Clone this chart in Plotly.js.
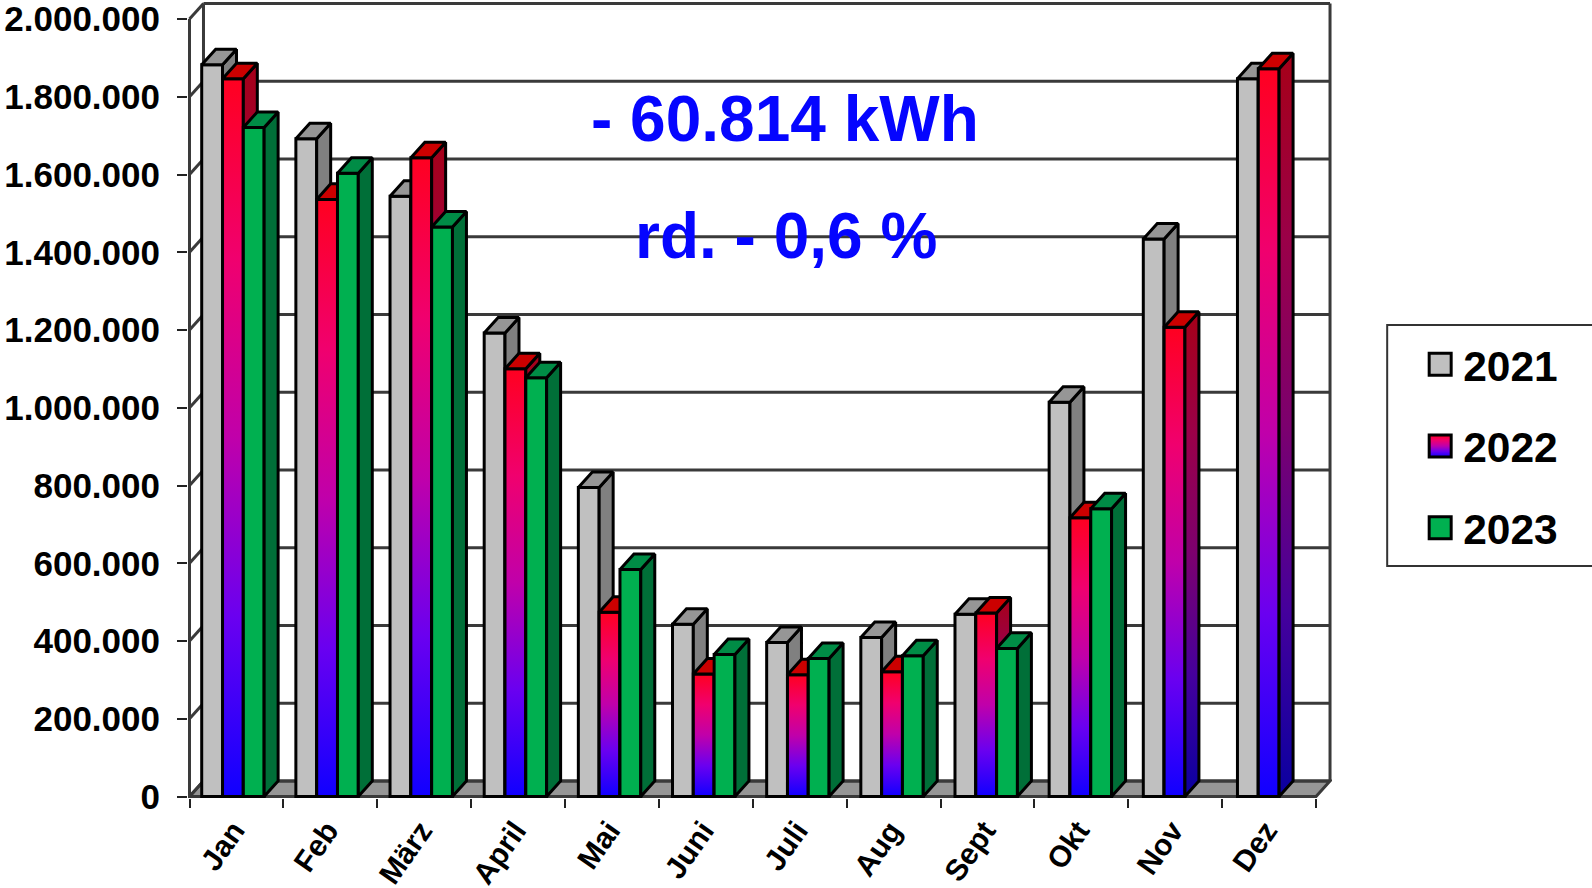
<!DOCTYPE html>
<html><head><meta charset="utf-8">
<script src="https://cdn.plot.ly/plotly-3.0.1.min.js"></script>
<style>html,body{margin:0;padding:0;background:#fff;overflow:hidden}#c{width:1592px;height:888px}</style>
</head><body><div id="c"></div>
<script>
const months = ["Jan","Feb","März","April","Mai","Juni","Juli","Aug","Sept","Okt","Nov","Dez"];
const v2021 = [1882000,1692000,1544000,1192000,795000,443000,396000,409000,469000,1014000,1434000,1846000];
const v2022 = [1846000,1536000,1643000,1100000,474000,315000,313000,321000,472000,717000,1207000,1872000];
const v2023 = [1721000,1603000,1465000,1077000,584000,365000,355000,362000,381000,740000,null,null];
const yTicks = [0,200000,400000,600000,800000,1000000,1200000,1400000,1600000,1800000,2000000];
const yLabels = ["0","200.000","400.000","600.000","800.000","1.000.000","1.200.000","1.400.000","1.600.000","1.800.000","2.000.000"];
const note1 = "- 60.814 kWh", note2 = "rd. - 0,6 %";

// projection of the pseudo-3D box, in axis units
const DX = 0.149, DY = 40000, BW = 0.2217, GAP0 = 0.13, PITCH = 1.003, N = 12, YMAX = 2000000;
const XR = [-0.016, 12.17], YR = [-3858, 2046300];
const M = {l:187.5, r:260.2, t:1, b:90};
const W = 1592, H = 888;
const px = x => (x - M.l) / (W - M.l - M.r), py = y => (H - M.b - y) / (H - M.t - M.b);

// [offset from top of the bar, colour]
const frontStops = [[0,"#ff0020"],[0.25,"#f0006e"],[0.5,"#c000aa"],[0.75,"#6a00f0"],[1,"#1000ff"]];
const sideStops  = [[0,"#a60018"],[0.25,"#9a0048"],[0.5,"#7c006e"],[0.75,"#45009c"],[1,"#0a00a0"]];

const series = [
 {name:"2021", vals:v2021, front:"#c0c0c0", top:"#969696", side:"#808080", ax:""},
 {name:"2022", vals:v2022, front:"#ff0033", top:"#cc0000", sideScale:sideStops.map(([o,c])=>[1-o,c]).reverse(), ax:"2"},
 {name:"2023", vals:v2023, front:"#00b050", top:"#008c46", side:"#006f38", ax:"3"}
];
const LINE = {color:"#000", width:3};
const traces = [];
series.forEach((s, k) => {
  const xa = "x"+s.ax, ya = "y"+s.ax;
  const centers = months.map((m,i) => i*PITCH + GAP0 + BW*(k+0.5));
  traces.push({type:"bar", name:s.name, x:centers, y:s.vals, width:BW, xaxis:xa, yaxis:ya,
    marker:{color:s.front, line:{color:"#000", width:3}}, hoverinfo:"x+y", legendgroup:s.name, showlegend:true});
  s.vals.forEach((v,i) => {
    if (v === null) return;
    const l = centers[i]-BW/2, r = centers[i]+BW/2;
    const side = {type:"scatter", mode:"lines", xaxis:xa, yaxis:ya, showlegend:false, hoverinfo:"skip", line:LINE, fill:"toself",
      x:[r,r+DX,r+DX,r,r], y:[0,DY,v+DY,v,0]};
    if (s.sideScale) side.fillgradient = {type:"vertical", colorscale:s.sideScale};
    else side.fillcolor = s.side;
    traces.push(side);
    traces.push({type:"scatter", mode:"lines", xaxis:xa, yaxis:ya, showlegend:false, hoverinfo:"skip", line:LINE, fill:"toself", fillcolor:s.top,
      x:[l,r,r+DX,l+DX,l], y:[v,v,v+DY,v+DY,v]});
  });
});

const wall = {color:"#3a3a3a", width:3};
const shapes = [];
const seg = (x0,y0,x1,y1) => shapes.push({type:"line", layer:"below", xref:"x", yref:"y", x0,y0,x1,y1, line:wall});
shapes.push({type:"path", layer:"below", xref:"x", yref:"y", fillcolor:"#969696", line:wall,
  path:`M0,0 L${N},0 L${N+DX},${DY} L${DX},${DY} Z`});
yTicks.forEach(v => {
  seg(DX, v+DY, N+DX, v+DY);
  seg(0, v, DX, v+DY);
});
seg(0,0,0,YMAX); seg(DX,DY,DX,YMAX+DY); seg(N+DX,DY,N+DX,YMAX+DY); seg(0,0,N,0);
shapes.push({type:"rect", layer:"above", xref:"paper", yref:"paper", x0:px(1387), x1:px(1640), y0:py(566), y1:py(325),
  line:{color:"#333", width:2}, fillcolor:"rgba(0,0,0,0)"});

const bold = "Liberation Sans, Arial, sans-serif";
const hidden = {visible:false, showgrid:false, zeroline:false};
const layout = {
  width:W, height:H, margin:M, paper_bgcolor:"#fff", plot_bgcolor:"#fff", barmode:"overlay",
  font:{family:bold, color:"#000"}, showlegend:true, shapes,
  xaxis:{range:XR, tickmode:"array", tickvals:months.concat("").map((m,i)=>i), ticktext:months.concat("").map(()=>""),
    ticks:"outside", ticklen:9, tickwidth:2, tickcolor:"#222", showgrid:false, zeroline:false, showline:false, fixedrange:true},
  yaxis:{range:YR, tickmode:"array", tickvals:yTicks, ticktext:yLabels, ticks:"outside", ticklen:10, tickwidth:2, tickcolor:"#222",
    ticklabelstandoff:10, ticklabeloverflow:"allow", tickfont:{size:35, family:bold, weight:700}, showgrid:false, zeroline:false, showline:false, fixedrange:true},
  xaxis2:{overlaying:"x", anchor:"y2", range:XR, side:"bottom", tickmode:"array", tickvals:months.map((m,i)=>i+0.47), ticktext:months,
    tickangle:-55, ticks:"", ticklabelstandoff:8, ticklabeloverflow:"allow", tickfont:{size:30, family:bold, weight:700}, showgrid:false, zeroline:false, showline:false},
  yaxis2:Object.assign({overlaying:"y", anchor:"x2", range:YR}, hidden),
  xaxis3:Object.assign({overlaying:"x", anchor:"y3", range:XR}, hidden),
  yaxis3:Object.assign({overlaying:"y", anchor:"x3", range:YR}, hidden),
  legend:{x:px(1417), y:py(330), xanchor:"left", yanchor:"top", bgcolor:"rgba(0,0,0,0)", borderwidth:0, itemwidth:36,
    tracegroupgap:23.5, font:{size:42.5, family:bold, weight:700, color:"#000"}, itemclick:false, itemdoubleclick:false},
  annotations:[
    {text:note1, xref:"paper", yref:"paper", x:px(785), y:py(119), showarrow:false, xanchor:"center", yanchor:"middle", font:{size:64, family:bold, weight:700, color:"#0505ff"}},
    {text:note2, xref:"paper", yref:"paper", x:px(786), y:py(235.5), showarrow:false, xanchor:"center", yanchor:"middle", font:{size:64, family:bold, weight:700, color:"#0505ff"}}
  ]
};
const gd = document.getElementById("c");
Plotly.newPlot(gd, traces, layout, {displayModeBar:false}).then(() => {
  const svg = gd.querySelector(".main-svg");
  const NS = "http://www.w3.org/2000/svg";
  const defs = svg.querySelector("defs") || svg.appendChild(document.createElementNS(NS,"defs"));
  const g = document.createElementNS(NS,"linearGradient");
  g.setAttribute("id","redBlue"); g.setAttribute("x1","0"); g.setAttribute("y1","0"); g.setAttribute("x2","0"); g.setAttribute("y2","1");
  frontStops.forEach(([o,c]) => { const st=document.createElementNS(NS,"stop"); st.setAttribute("offset",o); st.setAttribute("stop-color",c); g.appendChild(st); });
  defs.appendChild(g);
  gd.querySelectorAll(".barlayer .trace").forEach(t => {
    const d = t.__data__ && t.__data__[0] && t.__data__[0].trace;
    if (d && d.name === "2022") t.querySelectorAll("path").forEach(p => { p.style.fill = "url(#redBlue)"; });
  });
  gd.querySelectorAll(".legend .traces").forEach(t => {
    const d = t.__data__ && t.__data__[0] && t.__data__[0].trace;
    t.querySelectorAll(".legendpoints path").forEach(p => {
      p.setAttribute("d","M11,11H-11V-11H11Z");
      p.style.strokeWidth = "3px"; p.style.stroke = "#000";
      if (d && d.name === "2022") p.style.fill = "url(#redBlue)";
    });
  });
});
</script></body></html>
